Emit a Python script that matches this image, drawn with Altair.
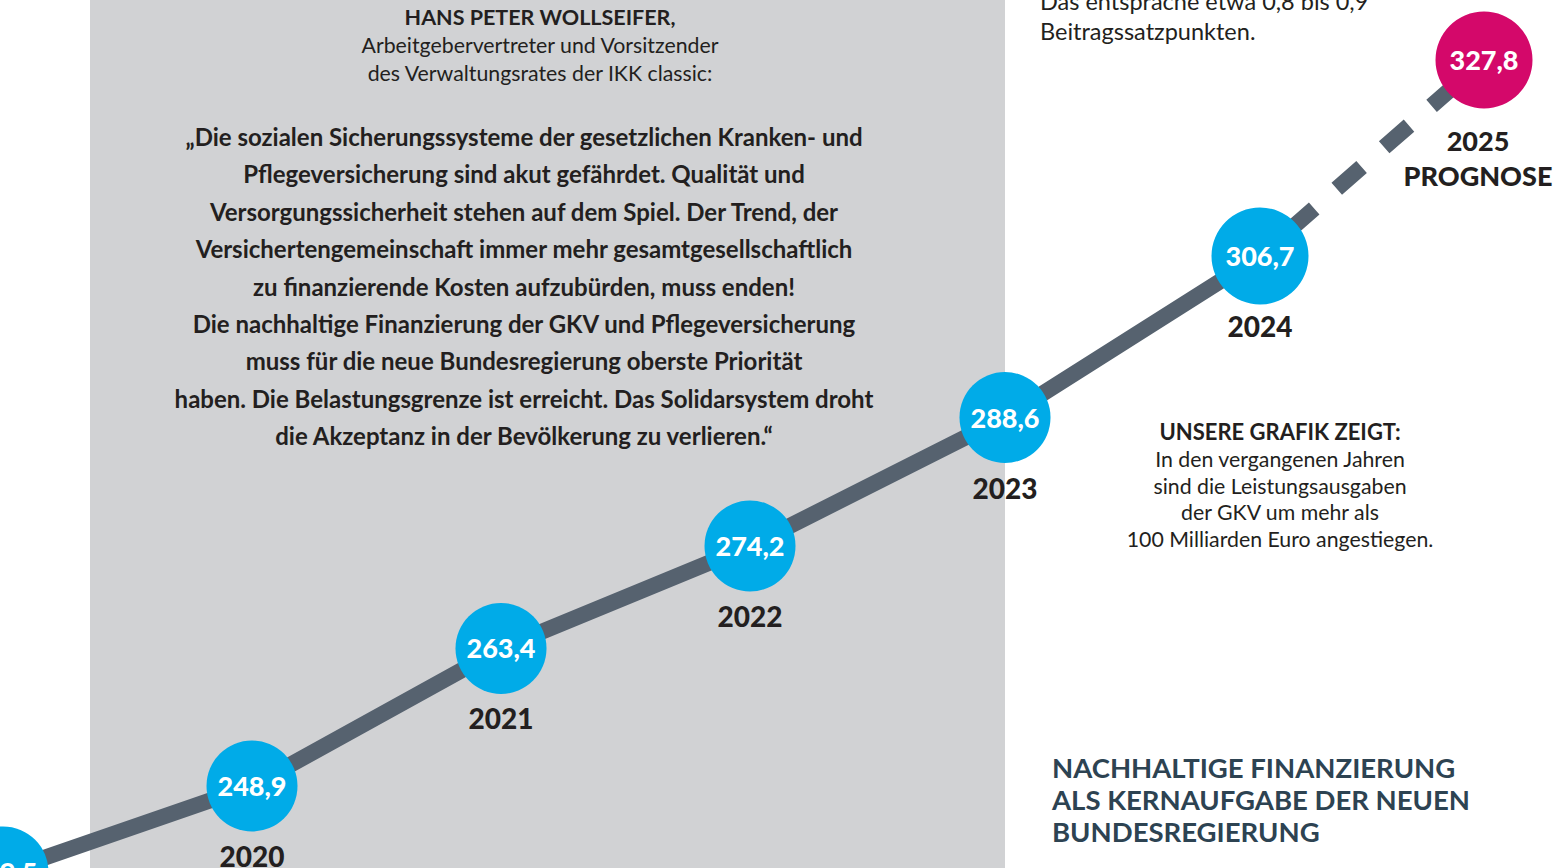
import altair as alt
import pandas as pd

# ---- data ----
years = [2019, 2020, 2021, 2022, 2023, 2024, 2025]
values = [239.5, 248.9, 263.4, 274.2, 288.6, 306.7, 327.8]
value_labels = ["239,5", "248,9", "263,4", "274,2", "288,6", "306,7", "327,8"]
year_labels = ["2019", "2020", "2021", "2022", "2023", "2024", "2025\nPROGNOSE"]
status = ["Ist", "Ist", "Ist", "Ist", "Ist", "Ist", "Prognose"]

header_lines = ["Arbeitgebervertreter und Vorsitzender", "des Verwaltungsrates der IKK classic:"]
quote_lines = [
    "„Die sozialen Sicherungssysteme der gesetzlichen Kranken- und",
    "Pflegeversicherung sind akut gefährdet. Qualität und",
    "Versorgungssicherheit stehen auf dem Spiel. Der Trend, der",
    "Versichertengemeinschaft immer mehr gesamtgesellschaftlich",
    "zu finanzierende Kosten aufzubürden, muss enden!",
    "Die nachhaltige Finanzierung der GKV und Pflegeversicherung",
    "muss für die neue Bundesregierung oberste Priorität",
    "haben. Die Belastungsgrenze ist erreicht. Das Solidarsystem droht",
    "die Akzeptanz in der Bevölkerung zu verlieren.“",
]
topright_lines = ["Das entspräche etwa 0,8 bis 0,9", "Beitragssatzpunkten."]
info_lines = ["In den vergangenen Jahren", "sind die Leistungsausgaben",
              "der GKV um mehr als", "100 Milliarden Euro angestiegen."]
headline_lines = ["NACHHALTIGE FINANZIERUNG", "ALS KERNAUFGABE DER NEUEN", "BUNDESREGIERUNG"]

df = pd.DataFrame({"year": years, "value": values, "vlabel": value_labels,
                   "ylabel": year_labels, "status": status})

W, H = 1557, 868
BLUE = "#00abe8"
MAGENTA = "#d4086a"
LINE = "#56626f"
DARK = "#231f20"
BODY_FONT = "Lato"

# piecewise-linear scales (the infographic is not drawn strictly to scale)
xs = alt.Scale(domain=[2019, 2022, 2024, 2025], range=[3, 750, 1260, 1484])
ys = alt.Scale(domain=[239.5, 248.9, 274.2, 306.7, 327.8], range=[872, 786, 546, 256, 60])
X = alt.X("year:Q", scale=xs, axis=None)
Y = alt.Y("value:Q", scale=ys, axis=None)

one = pd.DataFrame({"a": [0]})

bg = alt.Chart(one).mark_rect(color="#d1d2d4").encode(
    x=alt.value(90), x2=alt.value(1005), y=alt.value(-5), y2=alt.value(H + 5))

base = alt.Chart(df)

solid = base.transform_filter(alt.datum.year <= 2024).mark_line(
    color=LINE, strokeWidth=16, strokeCap="butt").encode(x=X, y=Y)

dashed = base.transform_filter(alt.datum.year >= 2024).mark_line(
    color=LINE, strokeWidth=16, strokeCap="butt", strokeDash=[33, 30],
    strokeDashOffset=24).encode(x=X, y=Y)

circles = base.mark_circle(opacity=1).encode(
    x=X, y=Y,
    color=alt.condition(alt.datum.status == "Prognose", alt.value(MAGENTA), alt.value(BLUE)),
    size=alt.condition(alt.datum.year >= 2024, alt.value(97 * 97), alt.value(91 * 91)),
)

vtext = base.mark_text(font=BODY_FONT, fontWeight=900, fontSize=27, color="white",
                       baseline="alphabetic", dy=10).encode(
    x=X, y=Y, text="vlabel:N")

ytext = base.transform_filter(alt.datum.year <= 2024).mark_text(
    font=BODY_FONT, fontWeight=900, fontSize=28, color=DARK, baseline="alphabetic",
    dy=81).encode(x=X, y=Y, text="ylabel:N")

ptext = base.transform_filter(alt.datum.year == 2025).mark_text(
    font=BODY_FONT, fontWeight=900, fontSize=27, color=DARK, baseline="alphabetic",
    dy=91, dx=-6, lineBreak="\n", lineHeight=35).encode(
    x=X, y=Y, text="ylabel:N")

def block(lines, x, y, size, weight="normal", align="center", lh=27, color=DARK):
    return alt.Chart(one).mark_text(
        text=lines, font=BODY_FONT, fontSize=size, fontWeight=weight, align=align,
        baseline="alphabetic", lineHeight=lh, color=color
    ).encode(x=alt.value(x), y=alt.value(y))

name = block(["HANS PETER WOLLSEIFER,"], 540, 25, 21.5, weight="bold")
header = block(header_lines, 540, 53, 21.3, lh=27.5)
quote = block(quote_lines, 524, 146, 24, weight="bold", lh=37.4)
topright = block(topright_lines, 1040, 10, 23.5, align="left", lh=30)
info_head = block(["UNSERE GRAFIK ZEIGT:"], 1280, 440, 22, weight="bold")
info = block(info_lines, 1280, 467, 21.3, lh=26.7)
headline = block(headline_lines, 1052, 778, 27.5, weight="bold", align="left", lh=32,
                 color="#2d4352")

chart = alt.layer(
    bg, solid, dashed, circles, vtext, ytext, ptext,
    name, header, quote, topright, info_head, info, headline
).properties(
    width=W, height=H, padding=0, autosize=alt.AutoSizeParams(type="none"),
    background="white"
).configure_view(stroke=None)

chart.save("out.html", embed_options={"renderer": "svg", "actions": False})
